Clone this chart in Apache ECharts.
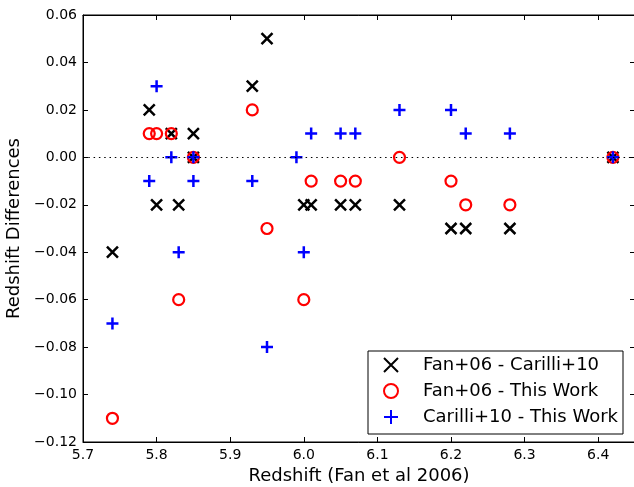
<!DOCTYPE html>
<html><head><meta charset="utf-8">
<script src="https://cdn.jsdelivr.net/npm/echarts@6/dist/echarts.min.js"></script>
<style>html,body{margin:0;padding:0;background:#fff}#c{width:634px;height:487px}</style>
</head><body><div id="c"></div>
<script>
// Fan+06 - Carilli+10
const fanCarilliZ = [5.74, 5.79, 5.80, 5.82, 5.83, 5.85, 5.85, 5.93, 5.95, 6.00, 6.01, 6.05, 6.07, 6.13, 6.20, 6.22, 6.28, 6.42];
const fanCarilliD = [-0.04, 0.02, -0.02, 0.01, -0.02, 0.01, 0.00, 0.03, 0.05, -0.02, -0.02, -0.02, -0.02, -0.02, -0.03, -0.03, -0.03, 0.00];
// Fan+06 - This Work
const fanThisZ = [5.74, 5.79, 5.80, 5.82, 5.83, 5.85, 5.93, 5.95, 6.00, 6.01, 6.05, 6.07, 6.13, 6.20, 6.22, 6.28, 6.42];
const fanThisD = [-0.11, 0.01, 0.01, 0.01, -0.06, 0.00, 0.02, -0.03, -0.06, -0.01, -0.01, -0.01, 0.00, -0.01, -0.02, -0.02, 0.00];
// Carilli+10 - This Work
const carThisZ = [5.74, 5.79, 5.80, 5.82, 5.83, 5.85, 5.85, 5.93, 5.95, 5.99, 6.00, 6.01, 6.05, 6.07, 6.13, 6.20, 6.22, 6.28, 6.42];
const carThisD = [-0.07, -0.01, 0.03, 0.00, -0.04, -0.01, 0.00, -0.01, -0.08, 0.00, -0.04, 0.01, 0.01, 0.01, 0.02, 0.02, 0.01, 0.01, 0.00];
const seriesNames = ['Fan+06 - Carilli+10', 'Fan+06 - This Work', 'Carilli+10 - This Work'];
const xTicks = [5.7, 5.8, 5.9, 6.0, 6.1, 6.2, 6.3, 6.4];
const yTicks = [-0.12, -0.10, -0.08, -0.06, -0.04, -0.02, 0.00, 0.02, 0.04, 0.06];

const zip = (a, b) => a.map((v, i) => [v, b[i]]);
const FONT = 'DejaVu Sans';
const fmtY = v => { const s = Math.abs(v).toFixed(2); return (v < -1e-9 ? '\u2212' : '') + s; };
const xAxisBase = {
  type: 'value', min: 5.7, max: 6.45, interval: 0.1,
  axisLine: { show: true, onZero: false, lineStyle: { color: '#000', width: 1 } },
  axisTick: { show: true, inside: true, length: 5, lineStyle: { color: '#000' } },
  splitLine: { show: false }
};
const yAxisBase = {
  type: 'value', min: -0.12, max: 0.06, interval: 0.02,
  axisLine: { show: true, onZero: false, lineStyle: { color: '#000', width: 1 } },
  axisTick: { show: true, inside: true, length: 5, lineStyle: { color: '#000' } },
  splitLine: { show: false }
};
const chart = echarts.init(document.getElementById('c'), null, { renderer: 'canvas' });
chart.setOption({
  animation: false,
  backgroundColor: '#fff',
  textStyle: { fontFamily: FONT },
  grid: { left: 83, right: -1, top: 15, bottom: 45, show: true, borderColor: '#000', borderWidth: 1,
          containLabel: false, outerBoundsMode: 'none' },
  xAxis: [
    Object.assign({}, xAxisBase, {
      position: 'bottom',
      name: 'Redshift (Fan et al 2006)', nameLocation: 'middle', nameGap: 25,
      nameTextStyle: { fontFamily: FONT, fontSize: 18, color: '#000' },
      axisLabel: { margin: 6, fontFamily: FONT, fontSize: 14, color: '#000',
        formatter: v => (xTicks.some(t => Math.abs(t - v) < 1e-6) ? v.toFixed(1) : '') }
    }),
    Object.assign({}, xAxisBase, { position: 'top', axisLabel: { show: false } })
  ],
  yAxis: [
    Object.assign({}, yAxisBase, {
      position: 'left',
      name: 'Redshift Differences', nameLocation: 'middle', nameGap: 56, nameRotate: 90,
      nameTextStyle: { fontFamily: FONT, fontSize: 18, color: '#000' },
      axisLabel: { margin: 6, fontFamily: FONT, fontSize: 14, color: '#000',
        formatter: v => (yTicks.some(t => Math.abs(t - v) < 1e-6) ? fmtY(v) : '') }
    }),
    Object.assign({}, yAxisBase, { position: 'right', axisLabel: { show: false } })
  ],
  legend: {
    orient: 'vertical', left: 368, top: 351,
    padding: [5, 5, 8, 15], itemGap: 8, itemWidth: 20, itemHeight: 14,
    borderColor: '#000', borderWidth: 1, backgroundColor: '#fff',
    textStyle: { fontFamily: FONT, fontSize: 18, color: '#000', lineHeight: 18, padding: [0, 0, 0, 17] },
    data: seriesNames
  },
  series: [
    {
      name: seriesNames[0], type: 'scatter', z: 2,
      symbol: 'path://M0,0L10,10M10,0L0,10', symbolSize: 11,
      itemStyle: { color: 'rgba(0,0,0,0)', borderColor: '#000', borderWidth: 2.5, opacity: 1 },
      data: zip(fanCarilliZ, fanCarilliD),
      markLine: {
        silent: true, symbol: 'none', label: { show: false },
        lineStyle: { color: '#000', type: [1.5, 3.8], width: 1.2 },
        data: [{ yAxis: 0 }]
      }
    },
    {
      name: seriesNames[1], type: 'scatter', z: 3,
      symbol: 'circle', symbolSize: 11,
      itemStyle: { color: 'rgba(0,0,0,0)', borderColor: '#ff0000', borderWidth: 2.2, opacity: 1 },
      data: zip(fanThisZ, fanThisD)
    },
    {
      name: seriesNames[2], type: 'scatter', z: 4,
      symbol: 'path://M5,0L5,10M0,5L10,5', symbolSize: 12,
      itemStyle: { color: 'rgba(0,0,0,0)', borderColor: '#0000ff', borderWidth: 2.5, opacity: 1 },
      data: zip(carThisZ, carThisD)
    }
  ]
});
</script></body></html>
